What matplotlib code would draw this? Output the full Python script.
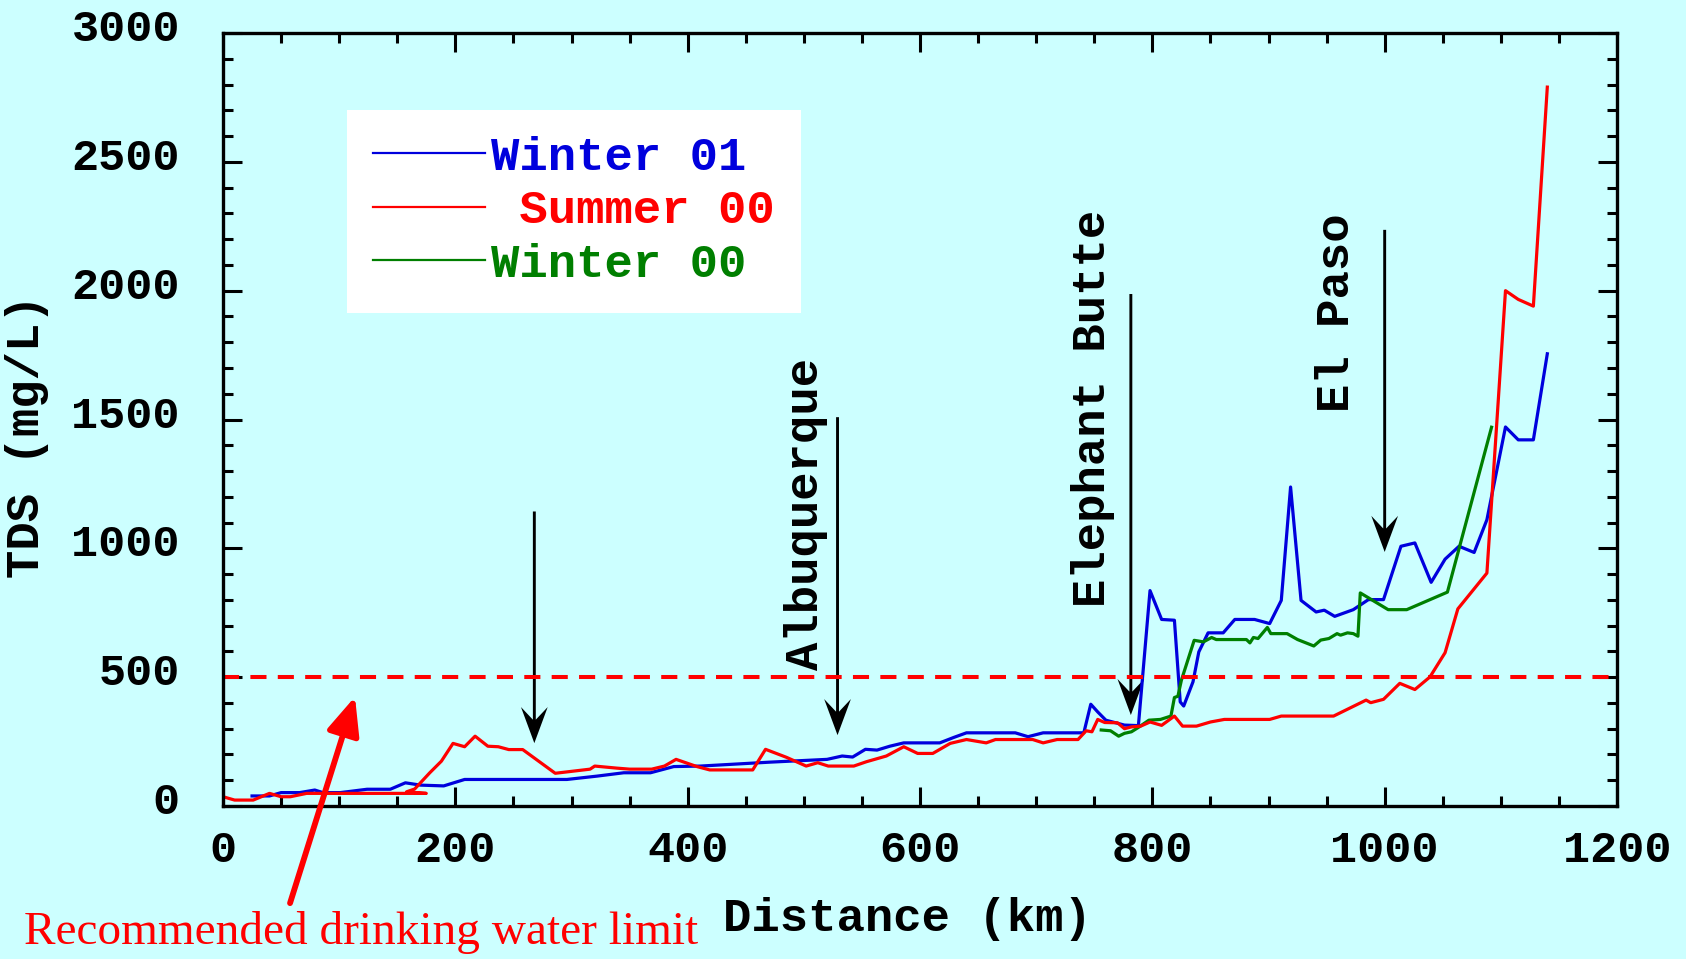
import matplotlib
matplotlib.use("Agg")
import matplotlib.pyplot as plt
from matplotlib.ticker import MultipleLocator
from matplotlib.transforms import ScaledTranslation

# --- data: distance (km) vs TDS (mg/L) ---
w01_km = [25, 40, 50, 66, 79, 86, 101, 124, 144, 157, 170, 190, 208, 256, 296,
          322, 345, 368, 388, 411, 470, 520, 533, 542, 553, 563, 574, 586, 617,
          629, 640, 682, 693, 706, 741, 747, 753, 760, 776, 788, 798, 808, 819,
          824, 827, 835, 840, 848, 861, 871, 888, 901, 911, 919, 928, 941, 948,
          957, 973, 986, 999, 1014, 1026, 1040, 1052, 1064, 1077, 1088, 1104,
          1115, 1128, 1140]
w01_tds = [39, 39, 52, 52, 62, 52, 52, 65, 65, 90, 81, 78, 103, 103, 103,
           116, 129, 129, 153, 155, 170, 181, 194, 190, 220, 217, 232, 245, 245,
           266, 284, 284, 269, 284, 284, 395, 365, 333, 314, 312, 836, 724, 721,
           404, 388, 482, 598, 672, 672, 724, 724, 708, 798, 1238, 798, 753, 760,
           736, 762, 801, 801, 1008, 1021, 868, 958, 1008, 984, 1111, 1471,
           1421, 1421, 1755]

s00_km = [0, 10, 26, 40, 50, 58, 72, 100, 175, 158, 165, 178, 188, 198, 208,
          217, 228, 237, 246, 258, 286, 316, 320, 339, 350, 369, 380, 390, 408,
          419, 456, 467, 485, 502, 512, 521, 543, 554, 571, 586, 598, 611, 626,
          640, 657, 665, 697, 706, 718, 736, 743, 748, 753, 759, 770, 776, 782,
          790, 798, 808, 819, 826, 838, 850, 862, 901, 911, 956, 984, 988, 999,
          1013, 1026, 1039, 1052, 1063, 1088, 1104, 1115, 1128, 1140]
s00_tds = [36, 23, 23, 49, 36, 36, 49, 49, 49, 55, 66, 129, 174, 243, 230,
           271, 232, 230, 219, 219, 127, 143, 155, 147, 143, 143, 155, 181, 153,
           140, 140, 220, 189, 155, 168, 155, 155, 172, 194, 230, 204, 204, 243,
           258, 245, 258, 258, 245, 258, 258, 292, 288, 336, 324, 323, 300, 307,
           310, 326, 313, 349, 310, 310, 326, 336, 336, 349, 349, 411, 401, 414,
           476, 452, 501, 595, 765, 904, 2000, 1966, 1940, 2790]

w00_km = [756, 764, 771, 776, 782, 788, 797, 807, 816, 819, 822, 825, 836, 844,
          851, 855, 881, 884, 887, 891, 899, 902, 916, 925, 939, 945, 952, 959,
          962, 968, 973, 977, 979, 1003, 1019, 1054, 1092]
w00_tds = [295, 292, 271, 282, 288, 305, 333, 336, 349, 421, 426, 488, 643, 637,
           654, 646, 646, 633, 654, 650, 693, 669, 669, 646, 621, 644, 650, 669,
           663, 672, 669, 659, 827, 762, 762, 830, 1470]

limit_tds = 500

# arrows pointing at river sites: km, top of shaft, tip
site_km = [268, 529, 781.5, 1000]
site_top = [1143, 1509, 1987, 2236]
site_tip = [244, 275, 353, 986]
site_names = ["Albuquerque", "Elephant Butte", "El Paso"]
name_km = [502, 749, 959]
name_tds = [1134, 1545, 1915]

BG = "#CCFFFF"
BLUE = "#0000DD"
RED = "#FF0000"
GREEN = "#007F00"

plt.rcParams["font.family"] = "Liberation Mono"
plt.rcParams["font.weight"] = "bold"
plt.rcParams["axes.labelweight"] = "bold"

fig = plt.figure(figsize=(16.86, 9.59), dpi=100, facecolor=BG)
ax = fig.add_axes([0.13227, 0.15954, 0.82681, 0.80605], facecolor=BG)

lb, = ax.plot(w01_km, w01_tds, color=BLUE, lw=2.3, label="Winter 01")
lg, = ax.plot(w00_km, w00_tds, color=GREEN, lw=2.3, label="Winter 00")
lr, = ax.plot(s00_km, s00_tds, color=RED, lw=2.3, label=" Summer 00")
ax.axhline(limit_tds, color=RED, lw=2.9, dashes=(4, 2.8))

for x, top, tip in zip(site_km, site_top, site_tip):
    ax.arrow(x, top, 0, tip - top, width=2.5, head_width=23, head_length=140,
             overhang=0.35, length_includes_head=True, color="black", lw=0)

for name, x, y in zip(site_names, name_km, name_tds):
    ax.text(x, y, name, rotation=90, ha="center", va="center", fontsize=34)

ax.set_xlim(0, 1200)
ax.set_ylim(0, 3000)
ax.xaxis.set_major_locator(MultipleLocator(200))
ax.xaxis.set_minor_locator(MultipleLocator(50))
ax.yaxis.set_major_locator(MultipleLocator(500))
ax.yaxis.set_minor_locator(MultipleLocator(100))
ax.tick_params(which="both", direction="in", top=True, right=True, width=2.2)
ax.tick_params(which="major", length=14)
ax.tick_params(which="minor", length=7)
ax.tick_params(axis="x", labelsize=32.5, pad=17)
ax.tick_params(axis="y", labelsize=32.5, pad=31)
for sp in ax.spines.values():
    sp.set_linewidth(2.4)

shift = ScaledTranslation(0, 0.08, fig.dpi_scale_trans)
for lab in ax.get_yticklabels():
    lab.set_transform(lab.get_transform() + shift)

ax.set_xlabel("Distance (km)", fontsize=34, fontweight="bold")
ax.set_ylabel("TDS (mg/L)", fontsize=34, fontweight="bold")
ax.xaxis.set_label_coords(0.491, -0.1177)
ax.yaxis.set_label_coords(-0.1245, 0.478)

leg = ax.legend(handles=[lb, lr, lg], loc="upper left", bbox_to_anchor=(0.089, 0.9004),
                borderaxespad=0, fontsize=34, frameon=True, fancybox=False,
                facecolor="white", edgecolor="none", framealpha=1,
                handlelength=2.37, handletextpad=0.13, labelspacing=0.2,
                borderpad=0.55)
for txt, line in zip(leg.get_texts(), leg.get_lines()):
    txt.set_color(line.get_color())
    line.set_linewidth(1.6)

# pointer to the drinking-water limit, from below the axes
ax.annotate("", xy=(113.6, 424), xytext=(57.7, -377), annotation_clip=False,
            arrowprops=dict(arrowstyle="-|>,head_length=2.3,head_width=1.0",
                            mutation_scale=10, color=RED, lw=4.2,
                            shrinkA=0, shrinkB=0))
fig.text(23.7 / 1686, 1 - 944 / 959, "Recommended drinking water limit",
         family="Liberation Serif", weight="normal", fontsize=34, color=RED,
         ha="left", va="baseline")

fig.savefig("out.png", dpi=100, facecolor=BG)
